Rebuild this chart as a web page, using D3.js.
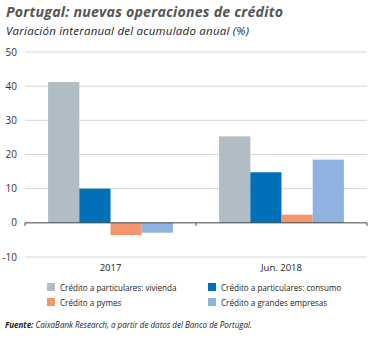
<!DOCTYPE html>
<html>
<head>
<meta charset="utf-8">
<script src="https://cdn.jsdelivr.net/npm/d3@7"></script>
<style>
  html, body { margin: 0; padding: 0; background: #fff; }
  svg { display: block; }
  text { font-family: "Open Sans", "Liberation Sans", sans-serif; }
</style>
</head>
<body>
<svg id="chart" width="384" height="338"></svg>
<script>
// Periods and credit series (year-on-year change of cumulative annual flow, %)
const periods = ["2017", "Jun. 2018"];
const seriesNames = [
  "Crédito a particulares: vivienda",
  "Crédito a particulares: consumo",
  "Crédito a pymes",
  "Crédito a grandes empresas"
];
const seriesColors = ["#b1bdc4", "#0070b8", "#f3966b", "#8fb3e0"];
const vivienda = [41.2, 25.3];
const consumo = [10.0, 14.8];
const pymes = [-3.6, 2.4];
const grandes = [-2.9, 18.5];
const yTicks = [-10, 0, 10, 20, 30, 40, 50];

const values = [vivienda, consumo, pymes, grandes];

const svg = d3.select("#chart");
const plotLeft = 25, plotRight = 367, plotTop = 52, plotBottom = 257;

const y = d3.scaleLinear().domain([-10, 50]).range([plotBottom, plotTop]);
const x0 = d3.scaleBand().domain(periods).range([plotLeft, plotRight]).padding(0);
const x1 = d3.scaleBand().domain(d3.range(seriesNames.length))
  .range([0, x0.bandwidth()]).paddingInner(0).paddingOuter(0.74);

// Title block
svg.append("text").attr("x", 6).attr("y", 17)
  .attr("font-size", 14.2).attr("font-weight", "bold").attr("font-style", "italic")
  .attr("fill", "#555").attr("textLength", 277)
  .text("Portugal: nuevas operaciones de crédito");
svg.append("text").attr("x", 6).attr("y", 35)
  .attr("font-size", 11.5).attr("font-style", "italic").attr("fill", "#222")
  .attr("textLength", 243)
  .text("Variación interanual del acumulado anual (%)");

// Horizontal grid
svg.append("g").selectAll("line").data(yTicks.filter(d => d !== 0)).join("line")
  .attr("x1", plotLeft).attr("x2", plotRight)
  .attr("y1", d => y(d)).attr("y2", d => y(d))
  .attr("stroke", "#d6d6d6").attr("stroke-width", 1);

// Y tick labels
svg.append("g").selectAll("text").data(yTicks).join("text")
  .attr("x", 17).attr("y", d => y(d) + 3.5)
  .attr("text-anchor", "end").attr("font-size", 10).attr("fill", "#333")
  .text(d => d);

// Bars
const groups = svg.append("g").selectAll("g").data(periods).join("g")
  .attr("transform", p => `translate(${x0(p)},0)`);
groups.selectAll("rect")
  .data((p, i) => values.map((s, k) => ({ k, v: s[i] })))
  .join("rect")
  .attr("x", d => x1(d.k))
  .attr("width", x1.bandwidth())
  .attr("y", d => y(Math.max(0, d.v)))
  .attr("height", d => Math.abs(y(d.v) - y(0)))
  .attr("fill", d => seriesColors[d.k]);

// Zero axis with category separators
const xAxis = svg.append("g");
xAxis.append("line").attr("x1", plotLeft).attr("x2", plotRight)
  .attr("y1", y(0)).attr("y2", y(0)).attr("stroke", "#444").attr("stroke-width", 1);
xAxis.selectAll("line.tick").data([plotLeft, x0(periods[1]), plotRight]).join("line")
  .attr("class", "tick")
  .attr("x1", d => d).attr("x2", d => d)
  .attr("y1", y(0)).attr("y2", y(0) + 3).attr("stroke", "#444");

// Category labels
svg.append("g").selectAll("text").data(periods).join("text")
  .attr("x", p => x0(p) + x0.bandwidth() / 2).attr("y", 271)
  .attr("text-anchor", "middle").attr("font-size", 9.5).attr("fill", "#222")
  .text(p => p);

// Legend
const legendPos = [[47, 290], [208, 290], [47, 305], [208, 305]];
const legend = svg.append("g").selectAll("g").data(seriesNames).join("g")
  .attr("transform", (d, i) => `translate(${legendPos[i][0]},${legendPos[i][1]})`);
legend.append("rect").attr("x", 0).attr("y", -7).attr("width", 8).attr("height", 8)
  .attr("fill", (d, i) => seriesColors[i]);
legend.append("text").attr("x", 13).attr("y", 0.5)
  .attr("font-size", 8.1).attr("fill", "#222").text(d => d);

// Source note
const src = svg.append("text").attr("x", 5).attr("y", 328)
  .attr("font-size", 8.1).attr("font-style", "italic").attr("fill", "#222")
  .attr("textLength", 247).attr("lengthAdjust", "spacingAndGlyphs");
src.append("tspan").attr("font-weight", "bold").text("Fuente: ");
src.append("tspan").text("CaixaBank Research, a partir de datos del Banco de Portugal.");
</script>
</body>
</html>
